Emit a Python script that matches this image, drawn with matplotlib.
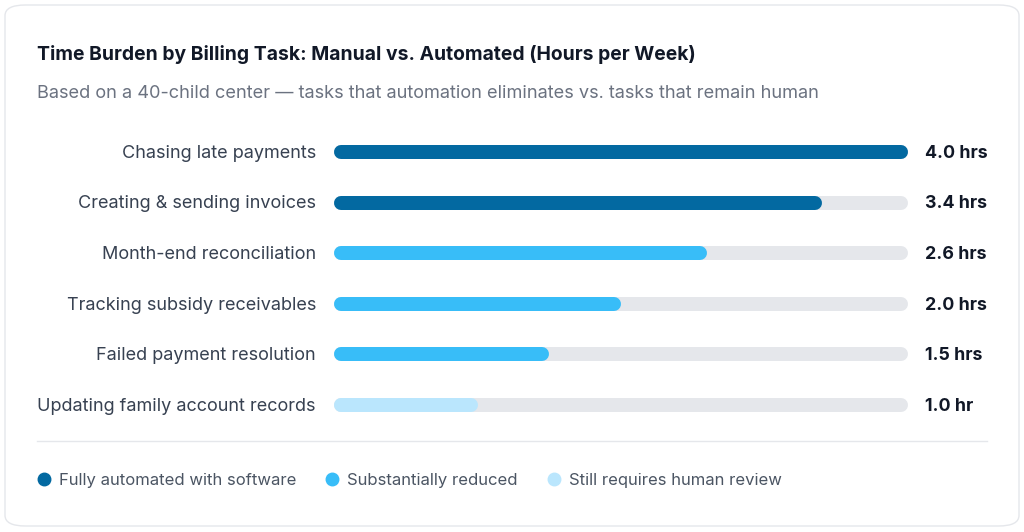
import matplotlib.pyplot as plt
from matplotlib.patches import FancyBboxPatch
from matplotlib.lines import Line2D

plt.rcParams['font.family'] = ['Inter', 'DejaVu Sans']

# ---------------------------------------------------------------------------
# Data
# ---------------------------------------------------------------------------
tasks = [
    "Chasing late payments",
    "Creating & sending invoices",
    "Month-end reconciliation",
    "Tracking subsidy receivables",
    "Failed payment resolution",
    "Updating family account records",
]
hours = [4.0, 3.4, 2.6, 2.0, 1.5, 1.0]
value_labels = ["4.0 hrs", "3.4 hrs", "2.6 hrs", "2.0 hrs", "1.5 hrs", "1.0 hr"]
category = [0, 0, 1, 1, 1, 2]
max_hours = 4.0

legend_names = ["Fully automated with software", "Substantially reduced",
                "Still requires human review"]
colors = ["#0369a1", "#38bdf8", "#bae6fd"]
track_color = "#e5e7eb"

W, H = 1024, 532
fig = plt.figure(figsize=(W / 100, H / 100), dpi=100)
fig.patch.set_facecolor("white")


def fx(px):
    return px / W


def fy(py):
    return 1 - py / H


# card
card = FancyBboxPatch((fx(5), fy(526)), fx(1014), 521 / H,
                      boxstyle="round,pad=0,rounding_size=0.02",
                      transform=fig.transFigure, facecolor="white",
                      edgecolor="#e5e7eb", linewidth=1.0, zorder=-5)
fig.patches.append(card)

fig.text(fx(37), fy(55), "Time Burden by Billing Task: Manual vs. Automated (Hours per Week)",
         fontsize=13.9, fontweight="bold", color="#111827", va="center")
fig.text(fx(37), fy(94), "Based on a 40-child center \u2014 tasks that automation eliminates vs. tasks that remain human",
         fontsize=13.1, color="#6b7280", va="center")

# bar axes: track spans 334..908 px; round caps sit inside the track ends
track_px = 574
bar_h = 14
row_h = 50.6
top = 152 - row_h / 2
ax = fig.add_axes([fx(334), fy(top + row_h * len(tasks)), fx(track_px), row_h * len(tasks) / H])
ax.set_zorder(2)
ax.set_xlim(0, max_hours)
ax.set_ylim(len(tasks) - 0.5, -0.5)
ax.axis("off")

lw = bar_h * 0.72
r = bar_h / 2 / track_px * max_hours  # cap radius in data units
for i, (v, c) in enumerate(zip(hours, category)):
    ax.plot([r, max_hours - r], [i, i], color=track_color, linewidth=lw,
            solid_capstyle="round", clip_on=False, zorder=1)
    ax.plot([r, v - r], [i, i], color=colors[c], linewidth=lw,
            solid_capstyle="round", clip_on=False, zorder=2)
    ax.annotate(tasks[i], xy=(0, i), xytext=(-13, -1), textcoords="offset points",
                ha="right", va="center", fontsize=13.0, color="#374151")
    ax.annotate(value_labels[i], xy=(max_hours, i), xytext=(12, -1),
                textcoords="offset points", ha="left", va="center",
                fontsize=12.8, fontweight="bold", color="#111827")

# separator
fig.add_artist(Line2D([fx(37), fx(987)], [fy(441), fy(441)], color="#e5e7eb",
                      linewidth=1.0, transform=fig.transFigure))

# legend
leg_x = [44, 332, 554]
for x, name, c in zip(leg_x, legend_names, colors):
    fig.add_artist(Line2D([fx(x)], [fy(479)], marker="o", markersize=9,
                          markerfacecolor=c, markeredgecolor=c, linestyle="none",
                          transform=fig.transFigure))
    fig.text(fx(x + 15), fy(480), name, fontsize=12.0, color="#4b5563", va="center")

fig.savefig("out.png", dpi=100, facecolor="white")
